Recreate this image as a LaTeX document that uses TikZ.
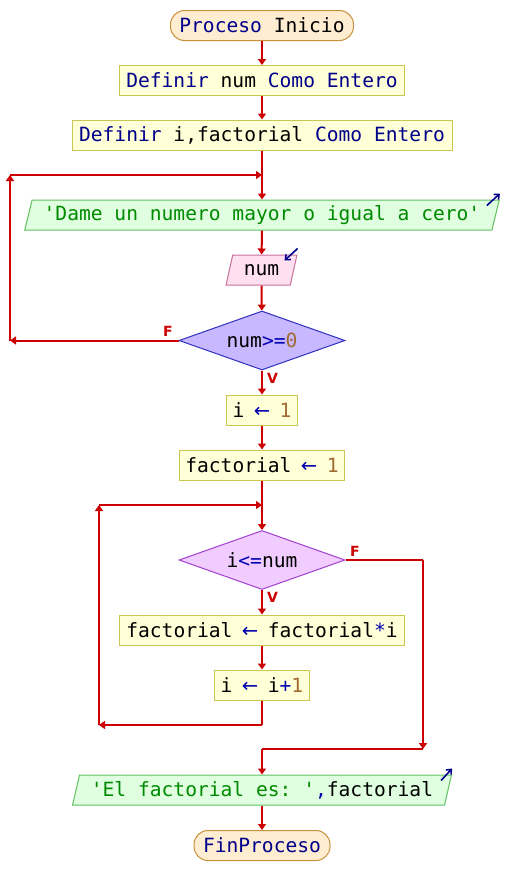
\documentclass[tikz,border=0pt]{standalone}
\usepackage{fontspec}
\setmonofont{DejaVu Sans Mono}
\newfontfamily\lblfont{DejaVu Sans}
\usetikzlibrary{shapes.geometric,arrows.meta,calc}
\definecolor{kwc}{HTML}{00008B}
\definecolor{numc}{HTML}{A06A30}
\definecolor{strc}{HTML}{008A00}
\definecolor{opc}{HTML}{0000B0}
\definecolor{flow}{HTML}{CC0000}
\definecolor{termfill}{HTML}{FFEDD2}
\definecolor{termdraw}{HTML}{C8903C}
\definecolor{procfill}{HTML}{FFFFD8}
\definecolor{procdraw}{HTML}{C8C850}
\definecolor{outfill}{HTML}{E0FFE0}
\definecolor{outdraw}{HTML}{60C060}
\definecolor{infill}{HTML}{FFE0F0}
\definecolor{indraw}{HTML}{C8709C}
\definecolor{dafill}{HTML}{C8B8FF}
\definecolor{dadraw}{HTML}{3030C0}
\definecolor{dbfill}{HTML}{F0CCFF}
\definecolor{dbdraw}{HTML}{A040D0}
\newcommand\kwd[1]{\textcolor{kwc}{#1}}
\newcommand\nmb[1]{\textcolor{numc}{#1}}
\newcommand\strg[1]{\textcolor{strc}{#1}}
\newcommand\opr[1]{\textcolor{opc}{#1}}
\newcommand\asg{\makebox[0.6em][c]{\textcolor{opc}{\lblfont ←}}}
\tikzset{
  base/.style={font=\ttfamily\fontsize{19.6}{23}\selectfont, text=black, line width=1pt, inner sep=0pt},
  term/.style={base, rounded corners=14pt, fill=termfill, draw=termdraw, minimum height=30},
  proc/.style={base, rectangle, fill=procfill, draw=procdraw, minimum height=30},
  iobox/.style={base, trapezium, trapezium left angle=70, trapezium right angle=110,
    trapezium stretches=true, minimum height=30},
  outbox/.style={iobox, fill=outfill, draw=outdraw},
  inbox/.style={iobox, fill=infill, draw=indraw},
  dec/.style={base, diamond, aspect=2.8, minimum width=166, minimum height=59},
  flowline/.style={draw=flow, line width=2pt},
  flowarrow/.style={flowline, -{Triangle[width=8pt,length=6pt]}},
  marker/.style={draw=kwc, line width=1.6pt, -{Straight Barb[length=4pt,width=7pt]}},
  lbl/.style={text=flow, font=\lblfont\bfseries\fontsize{14}{16}\selectfont, inner sep=0pt}
}
\begin{document}
\begin{tikzpicture}[x=1pt,y=-1pt]
\useasboundingbox (0,0) rectangle (528,895);
% nodes
\node[term, minimum width=183] (start) at (262,25.5) {\kwd{Proceso} Inicio};
\node[proc, minimum width=285] (def1) at (262,80.5) {\kwd{Definir} num \kwd{Como Entero}};
\node[proc, minimum width=380] (def2) at (262,135) {\kwd{Definir} i,factorial \kwd{Como Entero}};
\node[outbox, minimum width=476] (dame) at (262,215) {\strg{'Dame un numero mayor o igual a cero'}};
\node[inbox, minimum width=71] (num) at (261.5,270) {num};
\node[dec, fill=dafill, draw=dadraw] (d1) at (262,340.5) {num\opr{>=}\nmb{0}};
\node[proc, minimum width=71] (i1) at (262,410) {i \asg{} \nmb{1}};
\node[proc, minimum width=165] (f1) at (262,465) {factorial \asg{} \nmb{1}};
\node[dec, fill=dbfill, draw=dbdraw] (d2) at (262,560) {i\opr{<=}num};
\node[proc, minimum width=285] (fm) at (262,630) {factorial \asg{} factorial\opr{*}i};
\node[proc, minimum width=95] (i2) at (262,685) {i \asg{} i\opr{+}\nmb{1}};
\node[outbox, minimum width=380] (out) at (262,790) {\strg{'El factorial es: '}\opr{,}factorial};
\node[term, minimum width=136] (fin) at (262,845.5) {\kwd{FinProceso}};
% labels
\node[lbl] (f1lbl) at (168,331) {F};
\node[lbl] (v1lbl) at (272.5,378) {V};
\node[lbl] (f2lbl) at (355,551) {F};
\node[lbl] (v2lbl) at (272.5,597.5) {V};
% coordinates
\coordinate (j1) at (262,175);
\coordinate (l1t) at (10,175);
\coordinate (l1b) at (10,340.5);
\coordinate (j2) at (262,505);
\coordinate (l2t) at (99,505);
\coordinate (l2b) at (99,725);
\coordinate (i2b) at (262,725);
\coordinate (r2t) at (423,560);
\coordinate (r2b) at (423,749);
\coordinate (j3) at (262,749);
% connectors
\draw[flowarrow] (start) -- (def1);
\draw[flowarrow] (def1) -- (def2);
\draw[flowarrow] (def2) -- (dame);
\draw[flowarrow] (dame) -- (num);
\draw[flowarrow] (num) -- (d1);
\draw[flowarrow] (d1) -- (i1);
\draw[flowarrow] (d1.west) -- (l1b);
\draw[flowarrow] (l1b) -- (l1t);
\draw[flowarrow] (l1t) -- (j1);
\draw[flowarrow] (i1) -- (f1);
\draw[flowarrow] (f1) -- (d2);
\draw[flowarrow] (d2) -- (fm);
\draw[flowarrow] (fm) -- (i2);
\draw[flowline] (i2) -- (i2b);
\draw[flowarrow] (i2b) -- (l2b);
\draw[flowarrow] (l2b) -- (l2t);
\draw[flowarrow] (l2t) -- (j2);
\draw[flowline] (d2.east) -- (r2t);
\draw[flowarrow] (r2t) -- (r2b);
\draw[flowline] (r2b) -- (j3);
\draw[flowarrow] (j3) -- (out);
\draw[flowarrow] (out) -- (fin);
% io markers
\draw[marker] ($(dame.top right corner)+(-13,6)$) -- ($(dame.top right corner)+(0,-6)$);
\draw[marker] ($(num.top right corner)+(0,-6)$) -- ($(num.top right corner)+(-13,6)$);
\draw[marker] ($(out.top right corner)+(-11,6)$) -- ($(out.top right corner)+(0,-6)$);
\end{tikzpicture}
\end{document}
